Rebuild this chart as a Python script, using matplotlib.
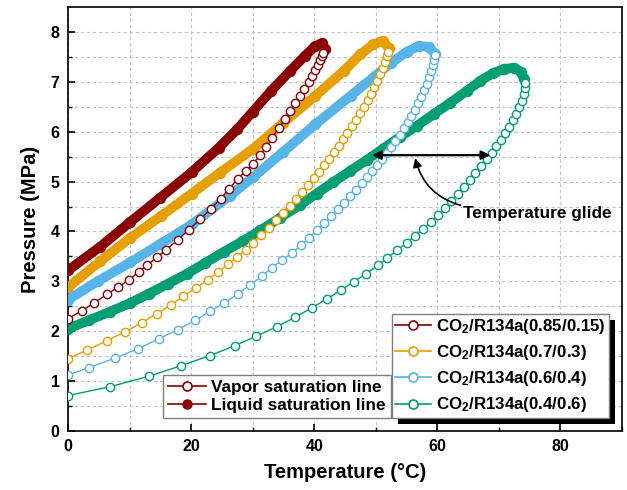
import matplotlib
matplotlib.use("Agg")
import matplotlib.pyplot as plt
from matplotlib.lines import Line2D
from matplotlib.patches import Rectangle
from matplotlib.transforms import IdentityTransform

# CO2/R134a phase envelopes (T in degC, P in MPa)
# 0.85/0.15
t_dew_85 = [0, 2.2, 4.3, 6.3, 8.1, 9.9, 11.5, 12.9, 14.5, 15.9, 17.8, 19.6, 21.4, 23.2, 24.8, 26.2, 27.6, 28.9,
            30.1, 31.2, 32.2, 33.2, 34.2, 35.2, 36.1, 36.9, 37.7, 38.4, 39.1, 39.7, 40.2, 40.6, 41.0, 41.3, 41.5]
p_dew_85 = [2.25, 2.41, 2.57, 2.74, 2.88, 3.03, 3.19, 3.33, 3.49, 3.63, 3.83, 4.03, 4.24, 4.45, 4.66, 4.86, 5.06, 5.22,
            5.36, 5.53, 5.70, 5.88, 6.07, 6.25, 6.42, 6.57, 6.72, 6.86, 6.99, 7.12, 7.24, 7.34, 7.44, 7.52, 7.58]
t_bub_85 = [0, 5.2, 10.1, 15.0, 20.1, 24.5, 27.5, 30.0, 33.0, 36.1, 38.5, 40.2, 41.2, 41.7]
p_bub_85 = [3.22, 3.69, 4.19, 4.68, 5.19, 5.68, 6.05, 6.40, 6.82, 7.22, 7.52, 7.72, 7.77, 7.66]

# 0.7/0.3
t_dew_70 = [0, 3.1, 6.3, 9.3, 12.0, 14.4, 16.7, 18.7, 20.8, 22.7, 24.4, 26.0, 27.4, 28.9, 30.1, 31.4, 32.6, 33.8,
            34.9, 36.0, 37.0, 38.0, 39.0, 39.9, 40.8, 41.6, 42.4, 43.2, 44.0, 44.7, 45.4, 46.1, 46.8, 47.5, 48.1,
            48.7, 49.2, 49.7, 50.2, 50.7, 51.1, 51.5, 51.8, 52.0]
p_dew_70 = [1.45, 1.62, 1.81, 1.99, 2.17, 2.35, 2.52, 2.70, 2.87, 3.03, 3.19, 3.34, 3.49, 3.63, 3.77, 3.92, 4.07, 4.22,
            4.37, 4.52, 4.66, 4.80, 4.94, 5.07, 5.20, 5.33, 5.46, 5.59, 5.72, 5.85, 5.98, 6.11, 6.24, 6.37, 6.50,
            6.63, 6.76, 6.89, 7.02, 7.15, 7.28, 7.40, 7.52, 7.60]
t_bub_70 = [0, 5.2, 10.1, 15.1, 20.1, 24.7, 30.1, 35.0, 40.2, 44.8, 47.5, 49.6, 51.1, 52.1]
p_bub_70 = [2.88, 3.40, 3.87, 4.31, 4.76, 5.18, 5.66, 6.18, 6.72, 7.22, 7.55, 7.75, 7.82, 7.68]

# 0.6/0.4
t_dew_60 = [0, 3.4, 7.6, 11.4, 14.8, 17.8, 20.7, 23.1, 25.4, 27.6, 29.6, 31.5, 33.1, 34.7, 36.4, 37.8, 39.1, 40.4,
            41.6, 42.7, 43.8, 44.8, 45.8, 46.8, 47.7, 48.6, 49.4, 50.2, 51.0, 51.8, 52.5, 53.2, 53.9, 54.6, 55.2,
            55.8, 56.4, 56.9, 57.4, 57.9, 58.3, 58.7, 59.0, 59.3, 59.5, 59.6]
p_dew_60 = [1.12, 1.27, 1.46, 1.65, 1.85, 2.03, 2.22, 2.40, 2.57, 2.75, 2.93, 3.10, 3.27, 3.42, 3.57, 3.72, 3.87, 4.02,
            4.17, 4.31, 4.45, 4.58, 4.71, 4.84, 4.97, 5.09, 5.21, 5.33, 5.45, 5.57, 5.69, 5.81, 5.94, 6.07, 6.19,
            6.31, 6.44, 6.57, 6.70, 6.83, 6.96, 7.09, 7.21, 7.33, 7.44, 7.53]
t_bub_60 = [0, 4.8, 10.1, 15.0, 20.1, 26.3, 30.1, 35.0, 40.2, 45.9, 49.5, 52.5, 55.0, 57.0, 58.6, 59.6]
p_bub_60 = [2.63, 3.00, 3.38, 3.75, 4.14, 4.72, 5.09, 5.60, 6.15, 6.72, 7.08, 7.38, 7.60, 7.72, 7.70, 7.56]

# 0.4/0.6
t_dew_40 = [0, 6.9, 13.2, 18.4, 23.0, 27.1, 30.6, 33.9, 36.9, 39.6, 42.1, 44.3, 46.4, 48.4, 50.3, 51.9, 53.5, 55.0,
            56.4, 57.7, 58.9, 60.1, 61.2, 62.3, 63.3, 64.3, 65.3, 66.2, 67.1, 68.0, 68.8, 69.6, 70.3, 71.0, 71.7,
            72.3, 72.8, 73.3, 73.7, 74.0, 74.2, 74.3]
p_dew_40 = [0.71, 0.89, 1.10, 1.31, 1.51, 1.71, 1.90, 2.09, 2.28, 2.47, 2.65, 2.82, 2.99, 3.15, 3.32, 3.47, 3.63, 3.77,
            3.91, 4.05, 4.19, 4.33, 4.47, 4.61, 4.75, 4.89, 5.03, 5.17, 5.31, 5.45, 5.58, 5.71, 5.84, 5.97, 6.10,
            6.23, 6.36, 6.49, 6.62, 6.75, 6.88, 6.98]
t_bub_40 = [0, 3.4, 6.8, 10.0, 13.1, 16.2, 19.3, 22.3, 25.3, 28.3, 31.2, 34.5, 37.7, 40.4, 43.1, 45.8, 48.6, 51.3,
            54.0, 56.7, 59.4, 62.1, 64.8, 67.0, 69.0, 70.8, 72.4, 73.6, 74.1]
p_bub_40 = [2.05, 2.22, 2.39, 2.56, 2.75, 2.95, 3.15, 3.37, 3.59, 3.80, 4.02, 4.28, 4.53, 4.76, 4.99, 5.21, 5.44, 5.67,
            5.90, 6.12, 6.35, 6.58, 6.82, 7.02, 7.17, 7.26, 7.28, 7.20, 7.05]

labels = ["CO$_2$/R134a(0.85/0.15)", "CO$_2$/R134a(0.7/0.3)",
          "CO$_2$/R134a(0.6/0.4)", "CO$_2$/R134a(0.4/0.6)"]
colors = ["#8B0000", "#E69F00", "#56B4E9", "#009E73"]

glide_p = 5.53
glide_t = [49.4, 68.6]

plt.rcParams["font.family"] = "Liberation Sans"
plt.rcParams["font.weight"] = "bold"
plt.rcParams["mathtext.fontset"] = "custom"
plt.rcParams["mathtext.rm"] = "Liberation Sans:bold"
plt.rcParams["mathtext.it"] = "Liberation Sans:bold"
plt.rcParams["mathtext.bf"] = "Liberation Sans:bold"

fig = plt.figure(figsize=(6.27, 4.9), dpi=100)
ax = fig.add_axes([68 / 627, 1 - 431 / 490, 554 / 627, 424 / 490])

bubbles = [(t_bub_85, p_bub_85), (t_bub_70, p_bub_70), (t_bub_60, p_bub_60), (t_bub_40, p_bub_40)]
dews = [(t_dew_85, p_dew_85), (t_dew_70, p_dew_70), (t_dew_60, p_dew_60), (t_dew_40, p_dew_40)]

for (t, p), c in zip(bubbles, colors):
    ax.plot(t, p, "-", color=c, lw=7.0, marker="o", ms=7.2, mec=c, mfc=c,
            solid_capstyle="round", solid_joinstyle="round", zorder=3)
for (t, p), c in zip(dews, colors):
    ax.plot(t, p, "-", color=c, lw=1.0, marker="o", ms=6.0, mfc="white", mec=c, mew=1.0, zorder=4)

# temperature glide
ax.annotate("", xy=(glide_t[0], glide_p), xytext=(glide_t[1], glide_p),
            arrowprops=dict(arrowstyle="<|-|>", color="black", lw=1.6, mutation_scale=13,
                            shrinkA=0, shrinkB=0), zorder=6)
ax.annotate("Temperature glide", xy=(56.4, 5.47), xytext=(64.2, 4.36), ha="left", va="center",
            fontsize=12.4, fontweight="bold",
            arrowprops=dict(arrowstyle="-|>", color="black", lw=1.2, mutation_scale=13,
                            connectionstyle="arc3,rad=-0.3", relpos=(0.0, 1.0),
                            shrinkA=0, shrinkB=0), zorder=6)

ax.set_xlim(0, 90)
ax.set_ylim(0, 8.5)
ax.set_xticks([0, 20, 40, 60, 80])
ax.set_xticks([10, 30, 50, 70, 90], minor=True)
ax.set_yticks(range(0, 9))
ax.set_yticks([0.5 + i for i in range(8)], minor=True)
ax.tick_params(which="major", direction="in", length=5, width=1.2, labelsize=11.5, pad=6)
ax.tick_params(which="minor", direction="in", length=3, width=1.0)
for s in ax.spines.values():
    s.set_linewidth(1.2)
ax.grid(True, which="both", ls=(0, (3, 2.5)), color="#c4c4c4", lw=0.8)
ax.set_axisbelow(True)

ax.set_xlabel("Temperature (\u00b0C)", fontsize=14.5, fontweight="bold", labelpad=6)
ax.set_ylabel("Pressure (MPa)", fontsize=14.5, fontweight="bold", labelpad=8)

dark = colors[0]
h1 = [Line2D([], [], color=dark, lw=1.2, marker="o", ms=6.5, mfc="white", mec=dark, mew=1.2),
      Line2D([], [], color=dark, lw=1.2, marker="o", ms=6.5, mfc=dark, mec=dark)]
leg1 = ax.legend(h1, ["Vapor saturation line", "Liquid saturation line"], loc="lower left",
                 bbox_to_anchor=(0.171, 0.031), borderaxespad=0, fancybox=False, edgecolor="#7f7f7f",
                 framealpha=1, prop={"weight": "bold", "size": 12.4}, handlelength=2.2,
                 handletextpad=0.3, labelspacing=0.15, borderpad=0.3)
leg1.get_frame().set_linewidth(1.0)
ax.add_artist(leg1)

h2 = [Line2D([], [], color=c, lw=1.2, marker="o", ms=6.5, mfc="white", mec=c, mew=1.2) for c in colors]
leg2 = ax.legend(h2, labels, loc="lower left", bbox_to_anchor=(0.585, 0.031), borderaxespad=0,
                 fancybox=False, edgecolor="#7f7f7f", framealpha=1,
                 prop={"weight": "bold", "size": 12.2}, handlelength=2.1, handletextpad=0.3,
                 labelspacing=0.42, borderpad=0.2)
leg2.get_frame().set_linewidth(1.0)

# solid black drop shadow behind the composition legend
fig.canvas.draw()
bb = leg2.get_window_extent()
ax.add_artist(Rectangle((bb.x0 + 6, bb.y0 - 6), bb.width, bb.height, transform=IdentityTransform(),
                        facecolor="black", edgecolor="none", zorder=4.9))

fig.savefig("out.png", dpi=100)
